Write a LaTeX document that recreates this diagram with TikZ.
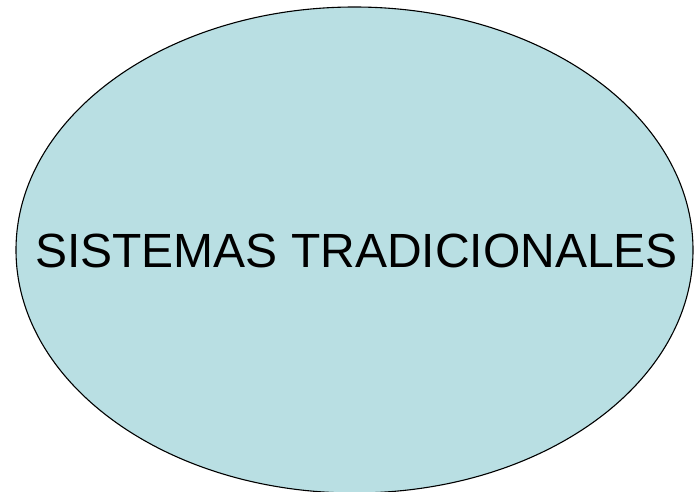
\documentclass[tikz,border=0pt]{standalone}
\usepackage{fontspec}
\setmainfont{Liberation Sans}
\definecolor{sysfill}{RGB}{185,223,227}
\tikzset{sysellipse/.style={draw=black, fill=sysfill, line width=1.1pt}}
\begin{document}
\begin{tikzpicture}[x=1pt, y=1pt]
\useasboundingbox (0, 0) rectangle (695, 491);
\draw [sysellipse] (354.5, 241) ellipse [x radius=338.5, y radius=243];
%Text
\node (title) at (356.5, 240.5) {\fontsize{48}{52}\selectfont SISTEMAS TRADICIONALES};
\end{tikzpicture}
\end{document}
